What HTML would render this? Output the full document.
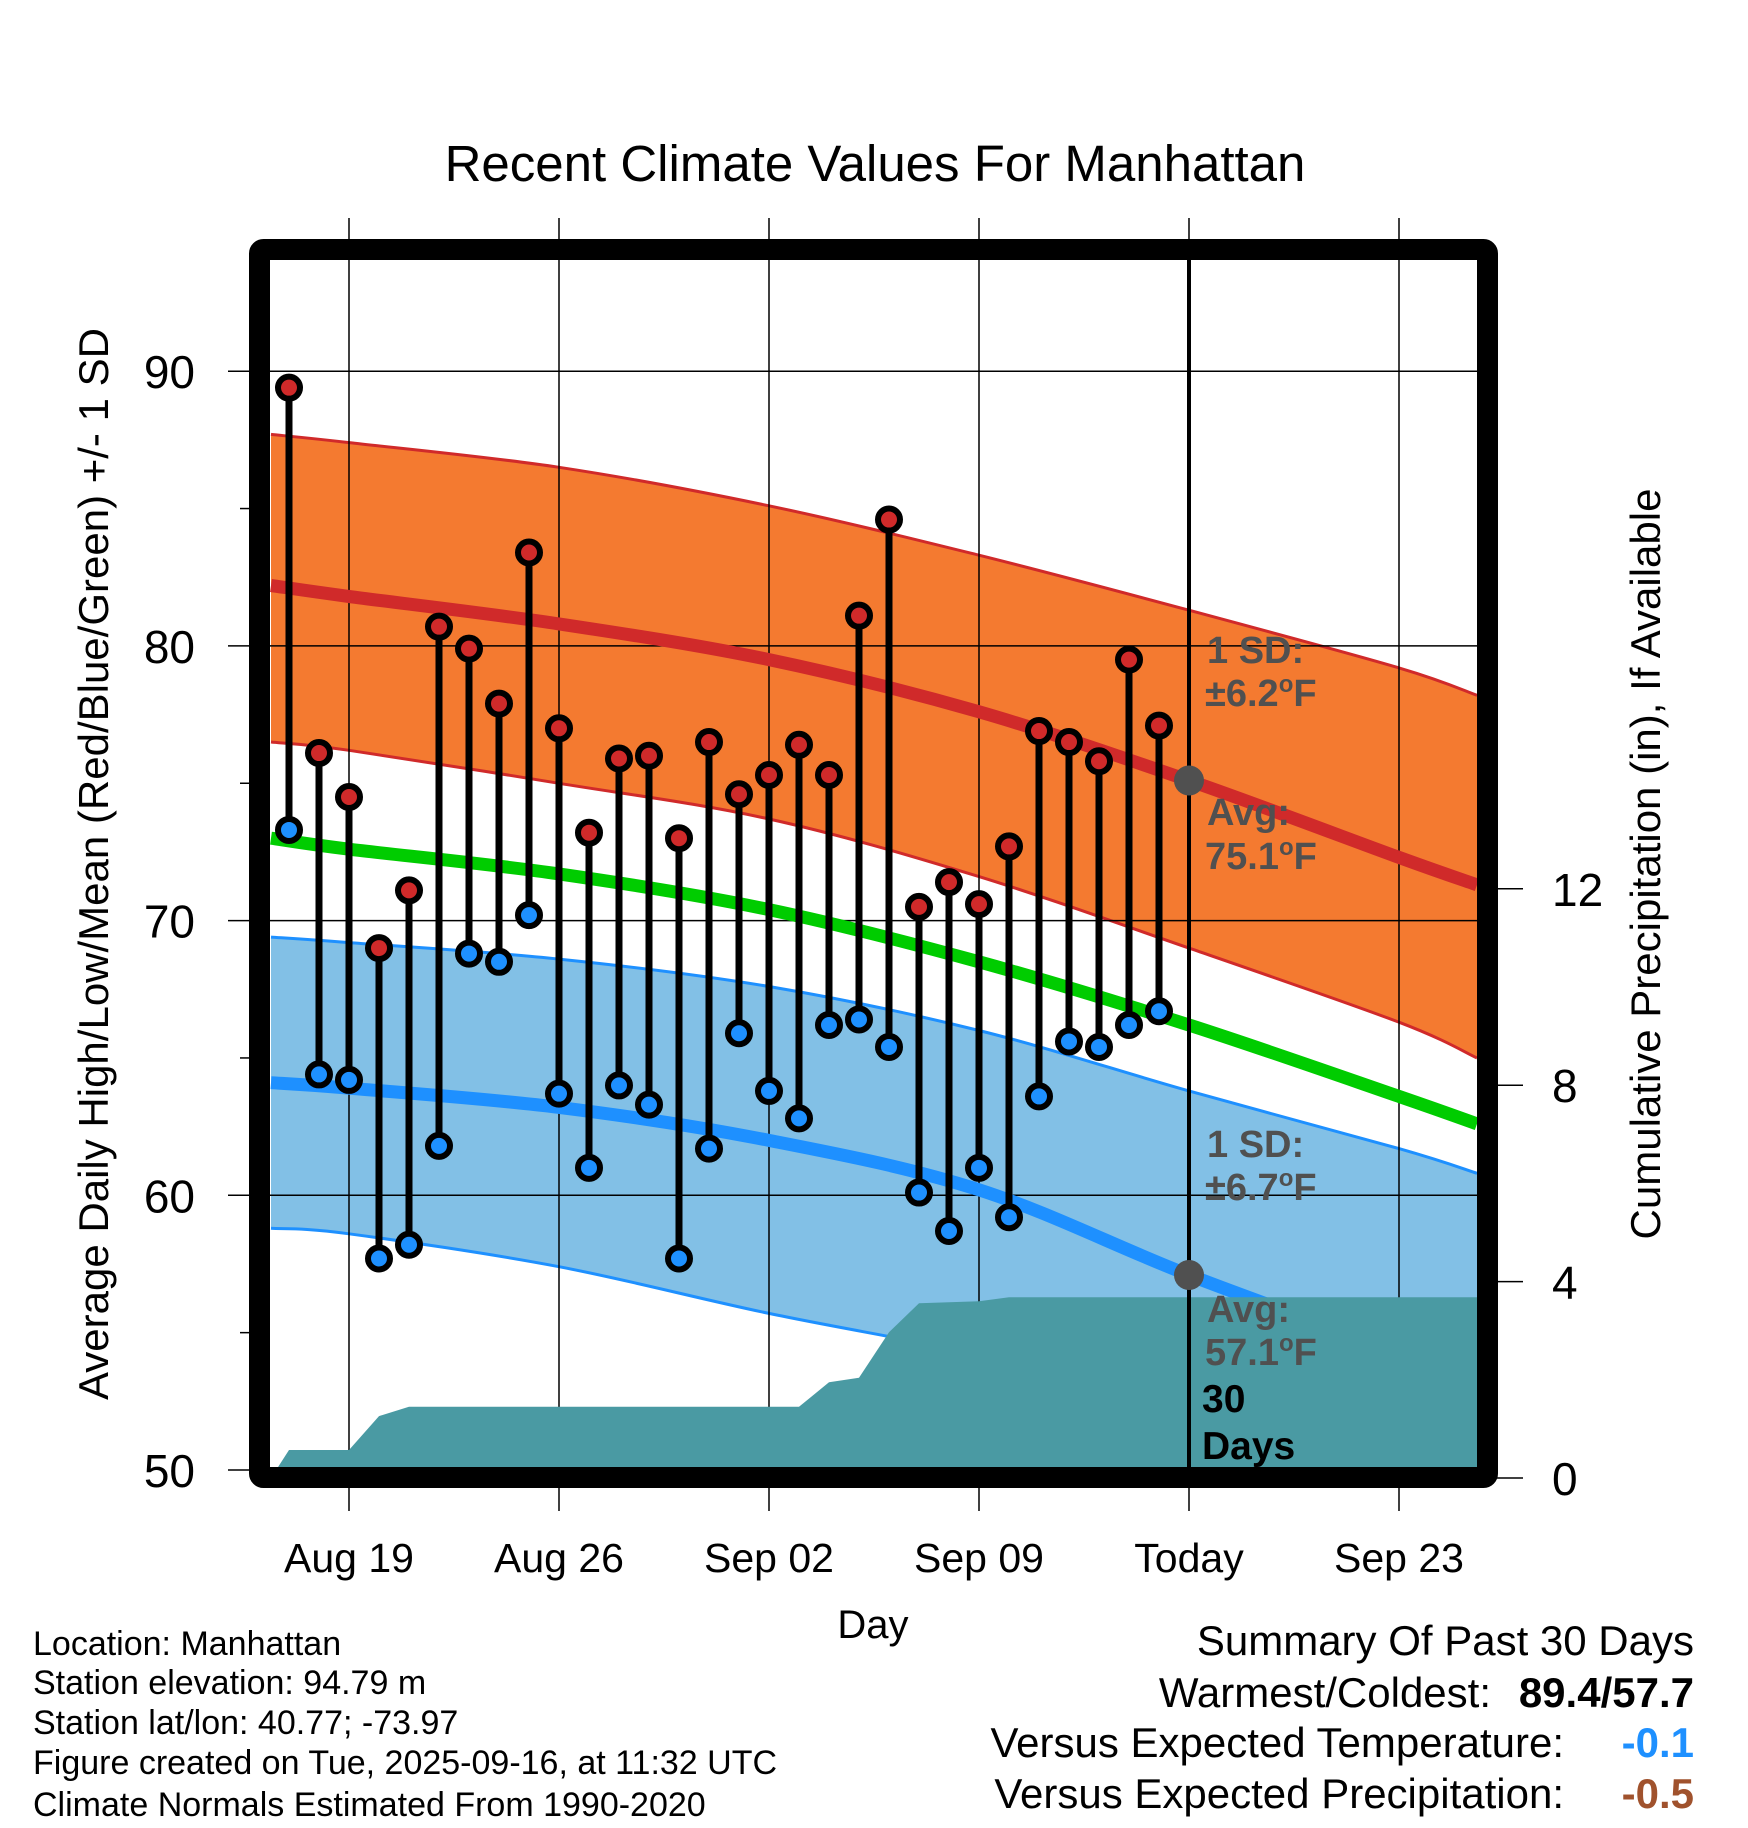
<!DOCTYPE html>
<html><head><meta charset="utf-8"><style>
html,body{margin:0;padding:0;background:#fff}
svg{display:block;font-family:"Liberation Sans",Arial,sans-serif}
</style></head><body>
<svg id="chart" width="1748" height="1828" viewBox="0 0 1748 1828" xmlns="http://www.w3.org/2000/svg">
<g id="bands"></g><g id="grid"></g><g id="series"></g><g id="frame"></g><g id="labels"></g>
</svg>
<script>
// ---- data ----
const dayOffsets = [-2,-1,0,1,2,3,4,5,6,7,8,9,10,11,12,13,14,15,16,17,18,19,20,21,22,23,24,25,26,27];
const highs = [89.4,76.1,74.5,69.0,71.1,80.7,79.9,77.9,83.4,77.0,73.2,75.9,76.0,73.0,76.5,74.6,75.3,76.4,75.3,81.1,84.6,70.5,71.4,70.6,72.7,76.9,76.5,75.8,79.5,77.1];
const lows = [73.3,64.4,64.2,57.7,58.2,61.8,68.8,68.5,70.2,63.7,61.0,64.0,63.3,57.7,61.7,65.9,63.8,62.8,66.2,66.4,65.4,60.1,58.7,61.0,59.2,63.6,65.6,65.4,66.2,66.7];
const precipCum = [0.57,0.57,0.57,1.26,1.45,1.45,1.45,1.45,1.45,1.45,1.45,1.45,1.45,1.45,1.45,1.45,1.45,1.45,1.95,2.04,2.97,3.56,3.58,3.60,3.68,3.68,3.68,3.68,3.68,3.68];
const normDays = [-2.6,0,7,14,21,28,35,37.6];
const highAvg = [82.2,81.8,80.8,79.5,77.6,75.1,72.3,71.3];
const highUpper = [87.7,87.4,86.5,85.1,83.3,81.3,79.2,78.2];
const highLower = [76.5,76.2,75.0,73.7,71.6,69.0,66.3,65.0];
const lowAvg = [64.1,63.9,63.2,62.0,60.2,57.1,54.3,53.3];
const lowUpper = [69.4,69.2,68.6,67.6,66.0,63.8,61.7,60.8];
const lowLower = [58.8,58.6,57.4,55.7,54.2,52.3,50.4,49.7];
const meanAvg = [73.0,72.6,71.7,70.4,68.5,66.2,63.6,62.6];
const xTickDays = [0,7,14,21,28,35];
const xTickLabels = ["Aug 19","Aug 26","Sep 02","Sep 09","Today","Sep 23"];
const yTicks = [50,60,70,80,90];
const yMinor = [55,65,75,85];
const pTicks = [0,4,8,12];
const todayDay = 28;

// ---- axes ----
const X0=270,X1=1478,Y0=260,Y1=1468;
const xS = d => 349 + 30*d;
const yS = v => 1470 - (v-50)*27.47;
const pS = p => 1478 - p*49.1;
const NS="http://www.w3.org/2000/svg";
function mk(parent,tag,attrs){const e=document.createElementNS(NS,tag);for(const k in attrs)e.setAttribute(k,attrs[k]);document.getElementById(parent).appendChild(e);return e;}
function P(days,vals){return days.map((d,i)=>[xS(d),yS(vals[i])]);}
function smooth(p){ // catmull-rom -> bezier, continuing path (no M)
  let s="";
  for(let i=0;i<p.length-1;i++){
    const p0=p[i-1]||p[i],p1=p[i],p2=p[i+1],p3=p[i+2]||p2;
    const c1=[p1[0]+(p2[0]-p0[0])/6,p1[1]+(p2[1]-p0[1])/6];
    const c2=[p2[0]-(p3[0]-p1[0])/6,p2[1]-(p3[1]-p1[1])/6];
    s+=" C"+c1[0].toFixed(1)+","+c1[1].toFixed(1)+" "+c2[0].toFixed(1)+","+c2[1].toFixed(1)+" "+p2[0].toFixed(1)+","+p2[1].toFixed(1);
  }
  return s;
}
function line(days,vals){const p=P(days,vals);return "M"+p[0][0]+","+p[0][1].toFixed(1)+smooth(p);}
function bandPath(up,lo){const a=P(normDays,up),b=P(normDays,lo).reverse();
  return "M"+a[0][0]+","+a[0][1].toFixed(1)+smooth(a)+" L"+b[0][0]+","+b[0][1].toFixed(1)+smooth(b)+"Z";}

let e;
e=mk("bands","path",{d:bandPath(highUpper,highLower),fill:"#f47a30"});


e=mk("bands","path",{d:bandPath(lowUpper,lowLower),fill:"#82c0e6"});


[[highUpper,"#d02a2a"],[highLower,"#d02a2a"],[lowUpper,"#1e90ff"],[lowLower,"#1e90ff"]].forEach(([arr,c])=>{
  e=mk("bands","path",{d:line(normDays,arr),fill:"none",stroke:c,"stroke-width":3});
  
  
});
function precipPoints(){
  const pp=[xS(-2.6)+","+pS(0)];
  dayOffsets.forEach((d,i)=>pp.push(xS(d)+","+pS(precipCum[i]).toFixed(1)));
  pp.push(X1+","+pS(precipCum[precipCum.length-1]).toFixed(1));
  pp.push(X1+","+pS(0));
  return pp.join(" ");
}
// grid
yTicks.forEach(v=>{
  e=mk("grid","line",{x1:228,x2:X1,y1:yS(v),y2:yS(v),stroke:"#000","stroke-width":1.5});
  
  
});
yMinor.forEach(v=>{
  e=mk("grid","line",{x1:240,x2:256,y1:yS(v),y2:yS(v),stroke:"#000","stroke-width":1.5});
  
  
});
xTickDays.forEach(d=>{
  e=mk("grid","line",{x1:xS(d),x2:xS(d),y1:218,y2:1511,stroke:"#000","stroke-width":1.5});
  
  
});
pTicks.forEach(p=>{
  e=mk("grid","line",{x1:X1,x2:1523,y1:pS(p),y2:pS(p),stroke:"#000","stroke-width":1.5});
  
  
});
[[meanAvg,"#00cc00","mean-normal-line"],[highAvg,"#d02a2a","high-normal-line"],[lowAvg,"#1e90ff","low-normal-line"]].forEach(([arr,c,n])=>{
  e=mk("series","path",{d:line(normDays,arr),fill:"none",stroke:c,"stroke-width":13});
  
  
});
e=mk("series","polygon",{points:precipPoints(),fill:"#4a9aa3"});


e=mk("series","line",{x1:xS(todayDay),x2:xS(todayDay),y1:Y0,y2:Y1,stroke:"#000","stroke-width":4});


dayOffsets.forEach((d,i)=>{
  e=mk("series","line",{x1:xS(d),x2:xS(d),y1:yS(highs[i]),y2:yS(lows[i]),stroke:"#000","stroke-width":7});
  
  
});
dayOffsets.forEach((d,i)=>{
  e=mk("series","circle",{cx:xS(d),cy:yS(highs[i]),r:11,fill:"#d02a2a",stroke:"#000","stroke-width":6});
  
  
  e=mk("series","circle",{cx:xS(d),cy:yS(lows[i]),r:11,fill:"#1e90ff",stroke:"#000","stroke-width":6});
  
  
});
e=mk("series","circle",{cx:xS(todayDay),cy:yS(highAvg[5]),r:15,fill:"#505050"});


e=mk("series","circle",{cx:xS(todayDay),cy:yS(lowAvg[5]),r:15,fill:"#505050"});


e=mk("frame","rect",{x:259.5,y:249.5,width:1228,height:1228,fill:"none",stroke:"#000","stroke-width":21,rx:4});


function txt(x,y,s,attrs,name){const t=mk("labels","text",Object.assign({x:x,y:y},attrs));t.textContent=s;return t;}
yTicks.forEach(v=>txt(195,yS(v)+17,String(v),{"font-size":46,"text-anchor":"end"},"y-tick-label"));
pTicks.forEach(p=>txt(1552,pS(p)+17,String(p),{"font-size":46},"precip-tick-label"));
xTickDays.forEach((d,i)=>txt(xS(d),1572,xTickLabels[i],{"font-size":41,"text-anchor":"middle"},"x-tick-label"));
</script>
<script>
(function(){
const NS="http://www.w3.org/2000/svg";
const svg=document.getElementById("chart");
function T(x,y,s,size,attrs,name){const t=document.createElementNS(NS,"text");t.setAttribute("x",x);t.setAttribute("y",y);t.setAttribute("font-size",size);for(const k in attrs)t.setAttribute(k,attrs[k]);t.innerHTML=s;


svg.appendChild(t);return t;}
T(875,181,"Recent Climate Values For Manhattan",51,{"text-anchor":"middle"},"chart-title");
T(873,1638,"Day",40,{"text-anchor":"middle"},"x-axis-title");
T(0,0,"Average Daily High/Low/Mean (Red/Blue/Green) +/- 1 SD",42,{"text-anchor":"middle",transform:"translate(108,864) rotate(-90)"},"y-axis-title");
T(0,0,"Cumulative Precipitation (in), If Available",42,{"text-anchor":"middle",transform:"translate(1660,864) rotate(-90)"},"y2-axis-title");
const g={"font-weight":"bold",fill:"#505050"};
const deg="<tspan font-size='24' dy='-14'>o</tspan><tspan dy='14'>F</tspan>";
T(1207,663,"1 SD:",38,g,"high-sd-annotation");
T(1205,706,"±6.2"+deg,38,g,"high-sd-value");
T(1207,825,"Avg:",38,g,"high-avg-annotation");
T(1205,869,"75.1"+deg,38,g,"high-avg-value");
T(1207,1157,"1 SD:",38,g,"low-sd-annotation");
T(1205,1200,"±6.7"+deg,38,g,"low-sd-value");
T(1207,1322,"Avg:",38,g,"low-avg-annotation");
T(1205,1365,"57.1"+deg,38,g,"low-avg-value");
T(1202,1412,"30",39,{"font-weight":"bold"},"days-annotation");
T(1202,1459,"Days",39,{"font-weight":"bold"},"days-annotation-label");
const foot=["Location: Manhattan","Station elevation: 94.79 m","Station lat/lon: 40.77; -73.97","Figure created on Tue, 2025-09-16, at 11:32 UTC","Climate Normals Estimated From 1990-2020"];
const fy=[1655,1694,1734,1774,1816];
foot.forEach((s,i)=>T(33,fy[i],s,34,{},"footer-info-line"));
T(1694,1655,"Summary Of Past 30 Days",42,{"text-anchor":"end"},"summary-title");
T(1491,1707,"Warmest/Coldest:",42,{"text-anchor":"end"},"warmest-coldest-label");
T(1694,1707,"89.4/57.7",42,{"text-anchor":"end","font-weight":"bold"},"warmest-coldest-value");
T(1564,1757,"Versus Expected Temperature:",42,{"text-anchor":"end"},"temp-anomaly-label");
T(1694,1757,"-0.1",42,{"text-anchor":"end","font-weight":"bold",fill:"#1e90ff"},"temp-anomaly-value");
T(1564,1808,"Versus Expected Precipitation:",42,{"text-anchor":"end"},"precip-anomaly-label");
T(1694,1808,"-0.5",42,{"text-anchor":"end","font-weight":"bold",fill:"#a0522d"},"precip-anomaly-value");
})();
</script>
</body></html>
